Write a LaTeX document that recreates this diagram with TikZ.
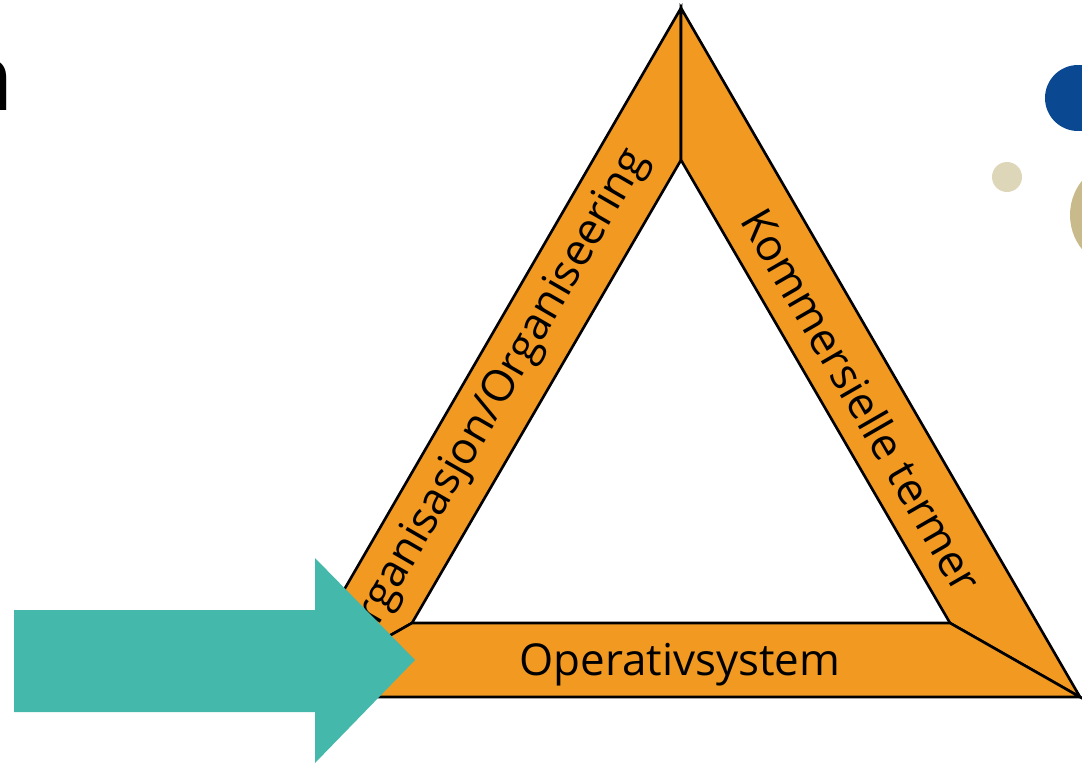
\documentclass[tikz,border=0pt]{standalone}
\usepackage{fontspec}
\setmainfont{Open Sans}
\definecolor{bandorange}{RGB}{241,153,33}
\definecolor{arrowteal}{RGB}{69,184,172}
\definecolor{dotblue}{RGB}{11,72,146}
\definecolor{dotsand}{RGB}{222,214,184}
\definecolor{dottan}{RGB}{200,186,138}

\begin{document}
\begin{tikzpicture}[x=0.02cm,y=-0.02cm,
  band/.style={fill=bandorange,draw=black,line width=1.5pt},
  bandtext/.style={font=\fontsize{25}{30}\selectfont,inner sep=0pt}]
\useasboundingbox (0,0) rectangle (1082,765);
% corners of the triangle
\coordinate (otop) at (681,8);
\coordinate (oleft) at (282,697);
\coordinate (oright) at (1080,697);
\coordinate (itop) at (681,160);
\coordinate (ileft) at (412,623);
\coordinate (iright) at (950,623);
\draw[band] (otop) -- (oleft) -- (ileft) -- (itop) -- cycle;
\draw[band] (otop) -- (oright) -- (iright) -- (itop) -- cycle;
\draw[band] (oleft) -- (oright) -- (iright) -- (ileft) -- cycle;
\node[bandtext,anchor=base] (opsys) at (680,675) {Operativsystem};
\node[bandtext,rotate=60] (org) at (495,402) {Organisasjon/Organiseering};
\node[bandtext,rotate=-60] (komm) at (862,400) {Kommersielle termer};
% arrow
\fill[arrowteal] (14,610) -- (315,610) -- (315,558) -- (415,660) -- (315,763) -- (315,712) -- (14,712) -- cycle;
% dots
\fill[dotblue] (1078,98) circle (33);
\fill[dotsand] (1007,177) circle (15);
\fill[dottan] (1125,215) circle (55);
\node[font=\fontsize{52}{60}\selectfont\bfseries,inner sep=0pt,anchor=base east] (cutletter) at (14,110) {n};
\end{tikzpicture}
\end{document}
